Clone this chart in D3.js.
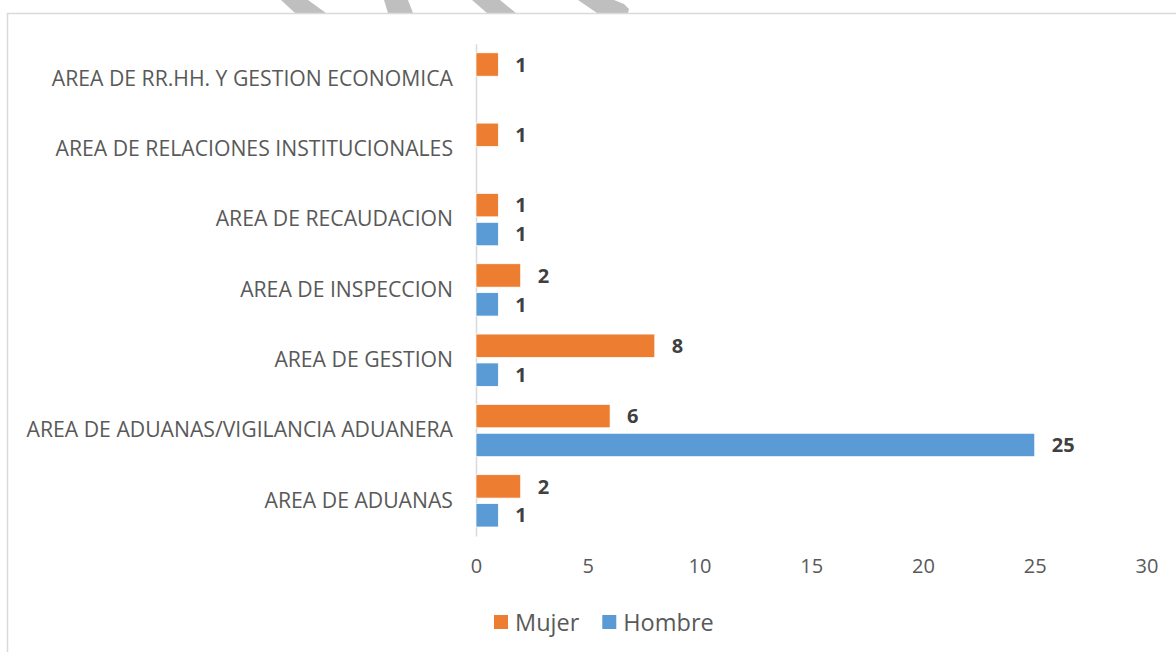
<!DOCTYPE html>
<html>
<head>
<meta charset="utf-8">
<script src="https://cdn.jsdelivr.net/npm/d3@7"></script>
<style>
  body { margin: 0; background: #fff; }
  svg { display: block; font-family: "Open Sans", sans-serif; }
</style>
</head>
<body>
<div id="chart"></div>
<script>
// chart data
const categories = [
    "AREA DE RR.HH. Y GESTION ECONOMICA",
    "AREA DE RELACIONES INSTITUCIONALES",
    "AREA DE RECAUDACION",
    "AREA DE INSPECCION",
    "AREA DE GESTION",
    "AREA DE ADUANAS/VIGILANCIA ADUANERA",
    "AREA DE ADUANAS"
];
const seriesNames = ["Mujer", "Hombre"];
const mujer = [1, 1, 1, 2, 8, 6, 2];
const hombre = [null, null, 1, 1, 1, 25, 1];
const xTicks = [0, 5, 10, 15, 20, 25, 30];

const colors = { Mujer: "#ED7D31", Hombre: "#5B9BD5" };

const width = 1176, height = 652;

const svg = d3.select("#chart").append("svg")
    .attr("width", width)
    .attr("height", height);

// grey watermark strokes peeking above the frame
const watermark = [
    [[281, 0], [308, 0], [326, 13], [295, 13]],
    [[384, 0], [408, 0], [413, 13], [388, 13]],
    [[472, 0], [500, 0], [516, 13], [487, 13]],
    [[578, 0], [614, 0], [624, 4], [629, 9], [628, 13], [597, 13]]
];
svg.selectAll("path.wm")
    .data(watermark)
    .enter().append("path")
    .attr("class", "wm")
    .attr("d", d => d3.line()(d) + "Z")
    .attr("fill", "#bfbfbf");

// frame of the chart area
svg.append("rect")
    .attr("x", 7.5)
    .attr("y", 13.5)
    .attr("width", width + 20)
    .attr("height", height + 20)
    .attr("fill", "none")
    .attr("stroke", "#d9d9d9")
    .attr("stroke-width", 1.5);

const x = d3.scaleLinear().domain([0, 30]).range([476, 1146.5]);
const y = d3.scaleBand().domain(categories).range([43.8, 536]);
const yInner = d3.scaleBand().domain(seriesNames)
    .range([9, y.bandwidth() - 9])
    .paddingInner(0.19);

// bottom axis labels
const xAxis = svg.append("g")
    .attr("transform", "translate(0,536)")
    .call(d3.axisBottom(x).tickValues(xTicks).tickSize(0).tickPadding(23));
xAxis.select(".domain").remove();
xAxis.selectAll("text")
    .attr("font-family", "Open Sans")
    .attr("font-size", 20)
    .attr("fill", "#595959");

// category axis
const yAxis = svg.append("g")
    .attr("transform", "translate(476,0)")
    .call(d3.axisLeft(y).tickSize(0).tickPadding(23));
yAxis.select(".domain")
    .attr("stroke", "#d9d9d9")
    .attr("stroke-width", 1.5);
yAxis.selectAll("text")
    .attr("font-family", "Open Sans")
    .attr("font-size", 21.2)
    .attr("fill", "#595959");

// bars
const rows = [];
categories.forEach((c, i) => {
    rows.push({ cat: c, serie: "Mujer", value: mujer[i] });
    rows.push({ cat: c, serie: "Hombre", value: hombre[i] });
});
const drawn = rows.filter(d => d.value != null);

svg.selectAll("rect.bar")
    .data(drawn)
    .enter().append("rect")
    .attr("class", "bar")
    .attr("x", x(0))
    .attr("y", d => y(d.cat) + yInner(d.serie))
    .attr("width", d => x(d.value) - x(0))
    .attr("height", yInner.bandwidth())
    .attr("fill", d => colors[d.serie])
    .attr("stroke", "#fff")
    .attr("stroke-width", 0.75);

svg.selectAll("text.val")
    .data(drawn)
    .enter().append("text")
    .attr("class", "val")
    .attr("x", d => x(d.value) + 17)
    .attr("y", d => y(d.cat) + yInner(d.serie) + yInner.bandwidth() / 2)
    .attr("dy", "0.36em")
    .attr("font-size", 20)
    .attr("font-weight", "bold")
    .attr("fill", "#404040")
    .text(d => d.value);

// legend
const legend = svg.append("g").attr("transform", "translate(494,615)");
let lx = 0;
seriesNames.forEach(name => {
    const item = legend.append("g").attr("transform", `translate(${lx},0)`);
    item.append("rect")
        .attr("width", 14)
        .attr("height", 14)
        .attr("fill", colors[name]);
    const t = item.append("text")
        .attr("x", 21)
        .attr("y", 15.5)
        .attr("font-size", 23.5)
        .attr("fill", "#595959")
        .text(name);
    lx += 21 + t.node().getComputedTextLength() + 23;
});
</script>
</body>
</html>
